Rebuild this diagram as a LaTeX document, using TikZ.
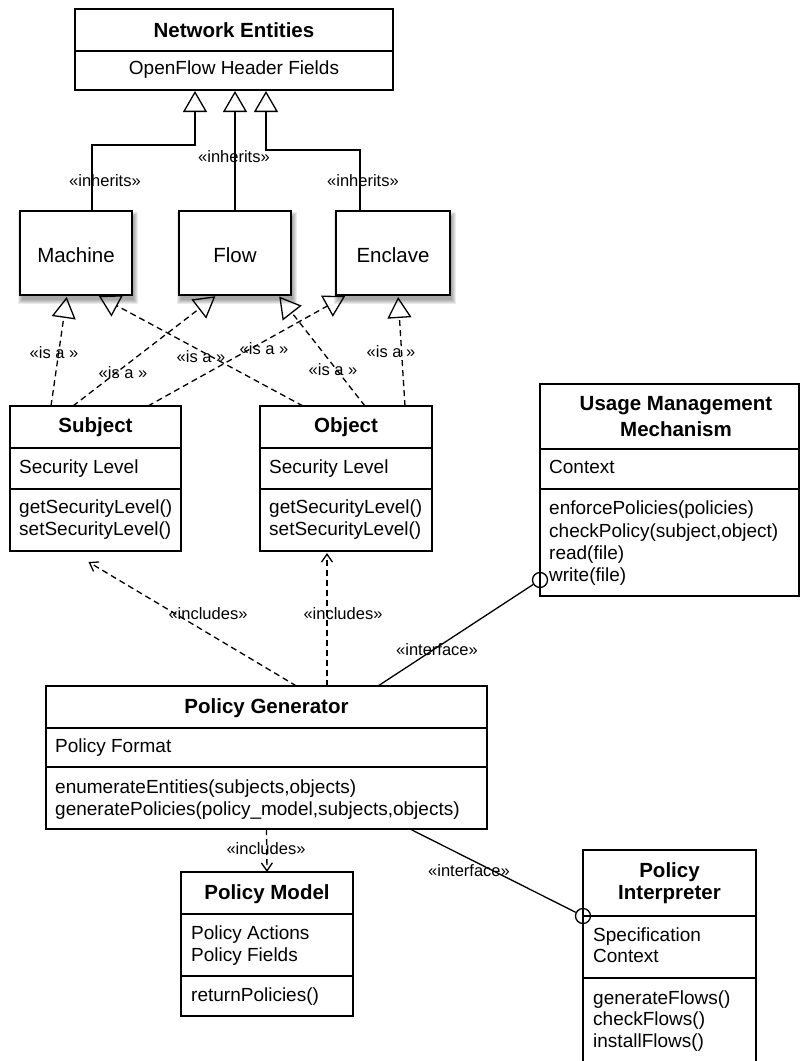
\documentclass[tikz,border=0pt]{standalone}
\usepackage{fontspec}
\setmainfont{Liberation Sans}
\usetikzlibrary{arrows.meta,backgrounds}
\begin{document}
\begin{tikzpicture}[x=1pt,y=-1pt,
  box/.style={draw, line width=1.3pt, anchor=north west, inner sep=0pt, outer sep=0pt, fill=white},
  div/.style={line width=1.3pt},
  ttl/.style={font=\bfseries\fontsize{20.5}{24}\selectfont, inner sep=0pt},
  big/.style={font=\fontsize{20.5}{24}\selectfont, inner sep=0pt},
  mem/.style={font=\fontsize{19}{22}\selectfont, inner sep=0pt, anchor=west, text height=13.7pt, text depth=4pt},
  lbl/.style={font=\fontsize{16.5}{18}\selectfont, inner sep=0pt},
  inh/.style={line width=1.3pt, -{Triangle[open, length=21pt, width=24pt, line width=1.3pt]}, shorten >=1pt},
  isa/.style={line width=1.3pt, dash pattern=on 6pt off 4pt, -{Triangle[open, length=21pt, width=24pt, line width=1.3pt, sep=0pt]}, shorten >=2pt},
  incl/.style={line width=1.3pt, dash pattern=on 6pt off 4pt, -{Straight Barb[length=8pt, width=11pt, line width=1.3pt]}},
  ifc/.style={line width=1.3pt},
  ball/.style={circle, draw, line width=1.3pt, minimum size=15pt, inner sep=0pt}
]
\clip (0,0) rectangle (801,1061);

% ---------- Network Entities
\node[box, minimum width=318pt, minimum height=81pt] (ne) at (75,9) {};
\draw[div] ([yshift=-42pt]ne.north west) -- ([yshift=-42pt]ne.north east);
\node[ttl] (net) at (234,30) {Network Entities};
\node[mem, anchor=center] (nea) at (234,70) {OpenFlow Header Fields};

% ---------- Machine / Flow / Enclave
\node[box, minimum width=112pt, minimum height=84pt] (machine) at (20,211) {};
\node[box, minimum width=112pt, minimum height=84pt] (flow) at (179,211) {};
\node[box, minimum width=114pt, minimum height=84pt] (enclave) at (336,211) {};
\node[big] (machinet) at (76,255) {Machine};
\node[big] (flowt) at (235,255) {Flow};
\node[big] (enclavet) at (393,255) {Enclave};
\begin{scope}[on background layer]
  \fill[white] (0,0) rectangle (801,1061);
  \foreach \n in {machine,flow,enclave}{
    \foreach \i in {0,1,2,3,4}{
      \fill[black, opacity=0.08] ([shift={(2-\i,5-\i)}]\n.north west) rectangle ([shift={(2+\i,5+\i)}]\n.south east);
    }
  }
\end{scope}

% ---------- Subject
\node[box, minimum width=171pt, minimum height=145pt] (subject) at (10,406) {};
\draw[div] ([yshift=-42pt]subject.north west) -- ([yshift=-42pt]subject.north east);
\draw[div] ([yshift=-83pt]subject.north west) -- ([yshift=-83pt]subject.north east);
\node[ttl] (subjectt) at (95.5,427) {Subject};
\node[mem] (subjecta) at (19,469) {Security Level};
\node[mem] (subjectm1) at (19,509) {getSecurityLevel()};
\node[mem] (subjectm2) at (19,531) {setSecurityLevel()};

% ---------- Object
\node[box, minimum width=172pt, minimum height=145pt] (object) at (260,406) {};
\draw[div] ([yshift=-42pt]object.north west) -- ([yshift=-42pt]object.north east);
\draw[div] ([yshift=-83pt]object.north west) -- ([yshift=-83pt]object.north east);
\node[ttl] (objectt) at (346,427) {Object};
\node[mem] (objecta) at (269,469) {Security Level};
\node[mem] (objectm1) at (269,509) {getSecurityLevel()};
\node[mem] (objectm2) at (269,531) {setSecurityLevel()};

% ---------- Usage Management Mechanism
\node[box, minimum width=259pt, minimum height=212pt] (usage) at (540,384) {};
\draw[div] ([yshift=-65pt]usage.north west) -- ([yshift=-65pt]usage.north east);
\draw[div] ([yshift=-105pt]usage.north west) -- ([yshift=-105pt]usage.north east);
\node[ttl] (usaget1) at (676,406) {Usage Management};
\node[ttl] (usaget2) at (676,429) {Mechanism};
\node[mem] (usagea) at (549,469) {Context};
\node[mem] (usagem1) at (549,510) {enforcePolicies(policies)};
\node[mem] (usagem2) at (549,533) {checkPolicy(subject,object)};
\node[mem] (usagem3) at (549,555) {read(file)};
\node[mem] (usagem4) at (549,577) {write(file)};

% ---------- Policy Generator
\node[box, minimum width=441pt, minimum height=143pt] (pg) at (46,686) {};
\draw[div] ([yshift=-42pt]pg.north west) -- ([yshift=-42pt]pg.north east);
\draw[div] ([yshift=-81pt]pg.north west) -- ([yshift=-81pt]pg.north east);
\node[ttl] (pgt) at (266.5,708) {Policy Generator};
\node[mem] (pga) at (55,748) {Policy Format};
\node[mem] (pgm1) at (55,789) {enumerateEntities(subjects,objects)};
\node[mem] (pgm2) at (55,811) {generatePolicies(policy\_model,subjects,objects)};

% ---------- Policy Model
\node[box, minimum width=172pt, minimum height=144pt] (pm) at (181,872) {};
\draw[div] ([yshift=-42pt]pm.north west) -- ([yshift=-42pt]pm.north east);
\draw[div] ([yshift=-104pt]pm.north west) -- ([yshift=-104pt]pm.north east);
\node[ttl] (pmt) at (267,894) {Policy Model};
\node[mem] (pma1) at (191,935) {Policy Actions};
\node[mem] (pma2) at (191,957) {Policy Fields};
\node[mem] (pmm1) at (191,997) {returnPolicies()};

% ---------- Policy Interpreter
\node[box, minimum width=173pt, minimum height=225pt] (pi) at (583,850) {};
\draw[div] ([yshift=-66pt]pi.north west) -- ([yshift=-66pt]pi.north east);
\draw[div] ([yshift=-128pt]pi.north west) -- ([yshift=-128pt]pi.north east);
\node[ttl] (pit1) at (669.5,872) {Policy};
\node[ttl] (pit2) at (669.5,895) {Interpreter};
\node[mem] (pia1) at (593,937) {Specification};
\node[mem] (pia2) at (593,958) {Context};
\node[mem] (pim1) at (593,1000) {generateFlows()};
\node[mem] (pim2) at (593,1021) {checkFlows()};
\node[mem] (pim3) at (593,1043) {installFlows()};

% ---------- inheritance
\coordinate (mb) at (150,145);
\coordinate (eb) at (300,150);
\draw[inh] ([xshift=16pt]machine.north) |- (mb) -| ([xshift=-39pt]ne.south);
\draw[inh] (flow.north) -- (flow.north |- ne.south);
\draw[inh] ([xshift=-33pt]enclave.north) |- (eb) -| ([xshift=32pt]ne.south);
\node[lbl] (li1) at (105,181) {«inherits»};
\node[lbl] (li2) at (234,157) {«inherits»};
\node[lbl] (li3) at (363,181) {«inherits»};

% ---------- is a
\draw[isa] ([xshift=-44.5pt]subject.north) -- ([xshift=-9pt]machine.south);
\draw[isa] ([xshift=-22.5pt]subject.north) -- ([xshift=-18pt]flow.south);
\draw[isa] ([xshift=52.5pt]subject.north) -- ([xshift=-46pt]enclave.south);
\draw[isa] ([xshift=-43pt]object.north) -- ([xshift=21pt]machine.south);
\draw[isa] ([xshift=19pt]object.north) -- ([xshift=43pt]flow.south);
\draw[isa] ([xshift=59pt]object.north) -- ([xshift=5pt]enclave.south);
\node[lbl] (la1) at (54,353) {«is a »};
\node[lbl] (la2) at (123,373) {«is a »};
\node[lbl] (la3) at (201,357) {«is a »};
\node[lbl] (la4) at (264,349) {«is a »};
\node[lbl] (la5) at (333,370) {«is a »};
\node[lbl] (la6) at (391,352) {«is a »};

% ---------- includes
\draw[incl] ([xshift=30pt]pg.north) -- ([xshift=-7pt,yshift=-11pt]subject.south);
\draw[incl] ([xshift=60.5pt]pg.north) -- ([xshift=-19pt,yshift=-2pt]object.south);
\draw[incl] (pg.south) -- (pm.north);
\node[lbl] (lc1) at (208,614) {«includes»};
\node[lbl] (lc2) at (343,614) {«includes»};
\node[lbl] (lc3) at (266,849) {«includes»};

% ---------- interfaces
\node[ball] (uc) at ([yshift=-196pt]usage.north west) {};
\node[ball] (pc) at ([yshift=-66pt]pi.north west) {};
\draw[ifc] ([xshift=111.5pt]pg.north) -- (uc);
\draw[ifc] ([xshift=143.5pt]pg.south) -- (pc);
\node[lbl] (lf1) at (437,650) {«interface»};
\node[lbl] (lf2) at (469,871) {«interface»};
\end{tikzpicture}
\end{document}
